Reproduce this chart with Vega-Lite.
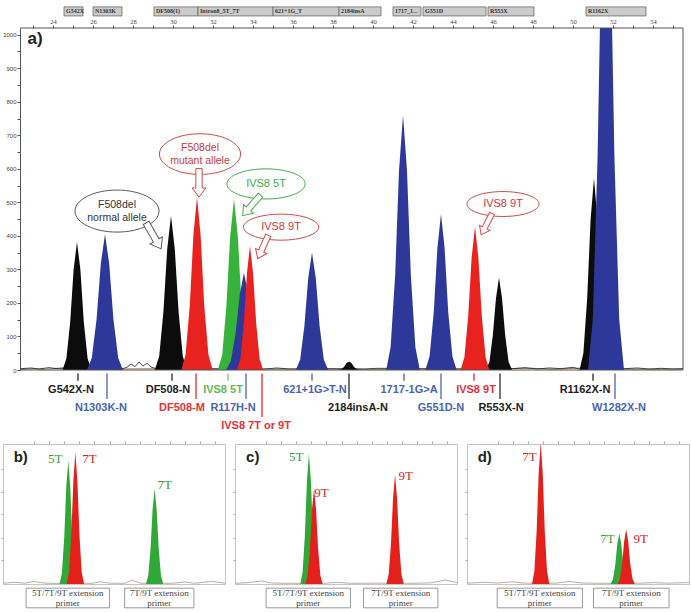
{
  "$schema": "https://vega.github.io/schema/vega-lite/v6.json",
  "background": "white",
  "padding": {"left": 0, "top": 6, "right": 0, "bottom": 0},
  "config": {"view": {"stroke": null}, "font": "Liberation Sans"},
  "bounds": "flush",
  "spacing": 0,
  "resolve": {"scale": {"fill": "independent", "stroke": "independent", "size": "independent", "shape": "independent", "angle": "independent"}},
  "datasets": {
    "peaksA": [
      {"peak":"G542X","dye":"black","x":24.48,"y":0},{"peak":"G542X","dye":"black","x":24.67,"y":34},{"peak":"G542X","dye":"black","x":24.86,"y":143},{"peak":"G542X","dye":"black","x":25.03,"y":299},{"peak":"G542X","dye":"black","x":25.2,"y":382},{"peak":"G542X","dye":"black","x":25.37,"y":299},{"peak":"G542X","dye":"black","x":25.54,"y":143},{"peak":"G542X","dye":"black","x":25.73,"y":34},{"peak":"G542X","dye":"black","x":25.92,"y":0},
      {"peak":"N1303K","dye":"blue","x":25.7,"y":0},{"peak":"N1303K","dye":"blue","x":25.94,"y":36},{"peak":"N1303K","dye":"blue","x":26.18,"y":152},{"peak":"N1303K","dye":"blue","x":26.39,"y":317},{"peak":"N1303K","dye":"blue","x":26.6,"y":405},{"peak":"N1303K","dye":"blue","x":26.81,"y":317},{"peak":"N1303K","dye":"blue","x":27.02,"y":152},{"peak":"N1303K","dye":"blue","x":27.26,"y":36},{"peak":"N1303K","dye":"blue","x":27.5,"y":0},
      {"peak":"DF508-N","dye":"black","x":29.09,"y":0},{"peak":"DF508-N","dye":"black","x":29.31,"y":41},{"peak":"DF508-N","dye":"black","x":29.52,"y":173},{"peak":"DF508-N","dye":"black","x":29.71,"y":360},{"peak":"DF508-N","dye":"black","x":29.9,"y":460},{"peak":"DF508-N","dye":"black","x":30.09,"y":360},{"peak":"DF508-N","dye":"black","x":30.28,"y":173},{"peak":"DF508-N","dye":"black","x":30.49,"y":41},{"peak":"DF508-N","dye":"black","x":30.71,"y":0},
      {"peak":"DF508-M","dye":"red","x":30.42,"y":0},{"peak":"DF508-M","dye":"red","x":30.63,"y":46},{"peak":"DF508-M","dye":"red","x":30.84,"y":193},{"peak":"DF508-M","dye":"red","x":31.02,"y":403},{"peak":"DF508-M","dye":"red","x":31.2,"y":515},{"peak":"DF508-M","dye":"red","x":31.38,"y":403},{"peak":"DF508-M","dye":"red","x":31.56,"y":193},{"peak":"DF508-M","dye":"red","x":31.77,"y":46},{"peak":"DF508-M","dye":"red","x":31.98,"y":0},
      {"peak":"IVS8-5T","dye":"green","x":32.24,"y":0},{"peak":"IVS8-5T","dye":"green","x":32.46,"y":45},{"peak":"IVS8-5T","dye":"green","x":32.67,"y":191},{"peak":"IVS8-5T","dye":"green","x":32.86,"y":399},{"peak":"IVS8-5T","dye":"green","x":33.05,"y":510},{"peak":"IVS8-5T","dye":"green","x":33.24,"y":399},{"peak":"IVS8-5T","dye":"green","x":33.43,"y":191},{"peak":"IVS8-5T","dye":"green","x":33.64,"y":45},{"peak":"IVS8-5T","dye":"green","x":33.86,"y":0},
      {"peak":"R117H","dye":"blue","x":32.65,"y":0},{"peak":"R117H","dye":"blue","x":32.89,"y":26},{"peak":"R117H","dye":"blue","x":33.13,"y":109},{"peak":"R117H","dye":"blue","x":33.34,"y":227},{"peak":"R117H","dye":"blue","x":33.55,"y":290},{"peak":"R117H","dye":"blue","x":33.76,"y":227},{"peak":"R117H","dye":"blue","x":33.97,"y":109},{"peak":"R117H","dye":"blue","x":34.21,"y":26},{"peak":"R117H","dye":"blue","x":34.45,"y":0},
      {"peak":"IVS8-9T-a","dye":"red","x":33.19,"y":0},{"peak":"IVS8-9T-a","dye":"red","x":33.37,"y":33},{"peak":"IVS8-9T-a","dye":"red","x":33.54,"y":139},{"peak":"IVS8-9T-a","dye":"red","x":33.7,"y":290},{"peak":"IVS8-9T-a","dye":"red","x":33.85,"y":370},{"peak":"IVS8-9T-a","dye":"red","x":34.0,"y":290},{"peak":"IVS8-9T-a","dye":"red","x":34.16,"y":139},{"peak":"IVS8-9T-a","dye":"red","x":34.33,"y":33},{"peak":"IVS8-9T-a","dye":"red","x":34.51,"y":0},
      {"peak":"621+1G>T","dye":"blue","x":36.14,"y":0},{"peak":"621+1G>T","dye":"blue","x":36.36,"y":31},{"peak":"621+1G>T","dye":"blue","x":36.57,"y":131},{"peak":"621+1G>T","dye":"blue","x":36.76,"y":274},{"peak":"621+1G>T","dye":"blue","x":36.95,"y":350},{"peak":"621+1G>T","dye":"blue","x":37.14,"y":274},{"peak":"621+1G>T","dye":"blue","x":37.33,"y":131},{"peak":"621+1G>T","dye":"blue","x":37.54,"y":31},{"peak":"621+1G>T","dye":"blue","x":37.76,"y":0},
      {"peak":"2184insA","dye":"black","x":38.26,"y":0},{"peak":"2184insA","dye":"black","x":38.4,"y":2},{"peak":"2184insA","dye":"black","x":38.55,"y":9},{"peak":"2184insA","dye":"black","x":38.67,"y":20},{"peak":"2184insA","dye":"black","x":38.8,"y":25},{"peak":"2184insA","dye":"black","x":38.93,"y":20},{"peak":"2184insA","dye":"black","x":39.05,"y":9},{"peak":"2184insA","dye":"black","x":39.2,"y":2},{"peak":"2184insA","dye":"black","x":39.34,"y":0},
      {"peak":"1717-1G>A","dye":"blue","x":40.66,"y":0},{"peak":"1717-1G>A","dye":"blue","x":40.88,"y":68},{"peak":"1717-1G>A","dye":"blue","x":41.11,"y":285},{"peak":"1717-1G>A","dye":"blue","x":41.3,"y":595},{"peak":"1717-1G>A","dye":"blue","x":41.5,"y":760},{"peak":"1717-1G>A","dye":"blue","x":41.7,"y":595},{"peak":"1717-1G>A","dye":"blue","x":41.89,"y":285},{"peak":"1717-1G>A","dye":"blue","x":42.12,"y":68},{"peak":"1717-1G>A","dye":"blue","x":42.34,"y":0},
      {"peak":"G551D","dye":"blue","x":42.62,"y":0},{"peak":"G551D","dye":"blue","x":42.83,"y":41},{"peak":"G551D","dye":"blue","x":43.04,"y":174},{"peak":"G551D","dye":"blue","x":43.22,"y":364},{"peak":"G551D","dye":"blue","x":43.4,"y":465},{"peak":"G551D","dye":"blue","x":43.58,"y":364},{"peak":"G551D","dye":"blue","x":43.76,"y":174},{"peak":"G551D","dye":"blue","x":43.97,"y":41},{"peak":"G551D","dye":"blue","x":44.18,"y":0},
      {"peak":"IVS8-9T-b","dye":"red","x":44.38,"y":0},{"peak":"IVS8-9T-b","dye":"red","x":44.57,"y":38},{"peak":"IVS8-9T-b","dye":"red","x":44.76,"y":160},{"peak":"IVS8-9T-b","dye":"red","x":44.93,"y":334},{"peak":"IVS8-9T-b","dye":"red","x":45.1,"y":427},{"peak":"IVS8-9T-b","dye":"red","x":45.27,"y":334},{"peak":"IVS8-9T-b","dye":"red","x":45.44,"y":160},{"peak":"IVS8-9T-b","dye":"red","x":45.63,"y":38},{"peak":"IVS8-9T-b","dye":"red","x":45.82,"y":0},
      {"peak":"R553X","dye":"black","x":45.64,"y":0},{"peak":"R553X","dye":"black","x":45.82,"y":24},{"peak":"R553X","dye":"black","x":45.99,"y":103},{"peak":"R553X","dye":"black","x":46.15,"y":215},{"peak":"R553X","dye":"black","x":46.3,"y":275},{"peak":"R553X","dye":"black","x":46.45,"y":215},{"peak":"R553X","dye":"black","x":46.61,"y":103},{"peak":"R553X","dye":"black","x":46.78,"y":24},{"peak":"R553X","dye":"black","x":46.96,"y":0},
      {"peak":"R1162X","dye":"black","x":50.33,"y":0},{"peak":"R1162X","dye":"black","x":50.52,"y":51},{"peak":"R1162X","dye":"black","x":50.71,"y":215},{"peak":"R1162X","dye":"black","x":50.88,"y":449},{"peak":"R1162X","dye":"black","x":51.05,"y":573},{"peak":"R1162X","dye":"black","x":51.22,"y":449},{"peak":"R1162X","dye":"black","x":51.39,"y":215},{"peak":"R1162X","dye":"black","x":51.58,"y":51},{"peak":"R1162X","dye":"black","x":51.77,"y":0},
      {"peak":"W1282X","dye":"blue","x":50.75,"y":0},{"peak":"W1282X","dye":"blue","x":50.99,"y":151},{"peak":"W1282X","dye":"blue","x":51.23,"y":638},{"peak":"W1282X","dye":"blue","x":51.44,"y":1331},{"peak":"W1282X","dye":"blue","x":51.65,"y":1700},{"peak":"W1282X","dye":"blue","x":51.86,"y":1331},{"peak":"W1282X","dye":"blue","x":52.07,"y":638},{"peak":"W1282X","dye":"blue","x":52.31,"y":151},{"peak":"W1282X","dye":"blue","x":52.55,"y":0}
    ],
    "traceA": [
      {"dye":"black","x":22.4,"y":4},{"dye":"black","x":22.9,"y":6},{"dye":"black","x":23.3,"y":3},{"dye":"black","x":23.8,"y":7},{"dye":"black","x":24.2,"y":4},{"dye":"black","x":27.4,"y":3},{"dye":"black","x":27.7,"y":8},{"dye":"black","x":27.9,"y":18},{"dye":"black","x":28.1,"y":10},{"dye":"black","x":28.3,"y":24},{"dye":"black","x":28.5,"y":12},{"dye":"black","x":28.7,"y":20},{"dye":"black","x":28.9,"y":9},{"dye":"black","x":29.1,"y":5},{"dye":"black","x":34.6,"y":3},{"dye":"black","x":35.2,"y":6},{"dye":"black","x":35.8,"y":3},{"dye":"black","x":38.0,"y":4},{"dye":"black","x":39.6,"y":3},{"dye":"black","x":40.2,"y":5},{"dye":"black","x":44.3,"y":3},{"dye":"black","x":47.0,"y":4},{"dye":"black","x":47.6,"y":7},{"dye":"black","x":48.2,"y":3},{"dye":"black","x":48.8,"y":6},{"dye":"black","x":49.4,"y":4},{"dye":"black","x":50.0,"y":8},{"dye":"black","x":50.3,"y":3},{"dye":"black","x":52.6,"y":4},{"dye":"black","x":53.2,"y":6},{"dye":"black","x":53.8,"y":3},{"dye":"black","x":54.4,"y":5},{"dye":"black","x":55.0,"y":3},{"dye":"black","x":55.5,"y":4},
      {"dye":"brown","x":22.4,"y":2},{"dye":"brown","x":23.0,"y":4},{"dye":"brown","x":23.6,"y":2},{"dye":"brown","x":24.2,"y":5},{"dye":"brown","x":24.8,"y":9},{"dye":"brown","x":25.3,"y":12},{"dye":"brown","x":25.8,"y":6},{"dye":"brown","x":26.4,"y":3},{"dye":"brown","x":30.5,"y":4},{"dye":"brown","x":32.0,"y":2},{"dye":"brown","x":36.0,"y":3},{"dye":"brown","x":40.0,"y":2},{"dye":"brown","x":44.0,"y":3},{"dye":"brown","x":48.0,"y":5},{"dye":"brown","x":49.0,"y":2},{"dye":"brown","x":50.5,"y":6},{"dye":"brown","x":51.0,"y":14},{"dye":"brown","x":51.5,"y":8},{"dye":"brown","x":52.2,"y":3},{"dye":"brown","x":54.0,"y":2},{"dye":"brown","x":55.5,"y":3}
    ],
    "frameA": [
      {"side":"right","x0":55.5,"x1":55.5,"y0":0,"y1":1020},
      {"side":"top","x0":22.35,"x1":55.5,"y0":1020,"y1":1020},
      {"side":"bottom","x0":22.35,"x1":55.5,"y0":0,"y1":0}
    ],
    "markers": [
      {"lab":"G542X","x0":24.55,"x1":25.5},
      {"lab":"N1303K","x0":26.0,"x1":27.45},
      {"lab":"DF508(1)","x0":29.05,"x1":31.25},
      {"lab":"Intron8_5T_7T","x0":31.25,"x1":35.0},
      {"lab":"621+1G_T","x0":35.0,"x1":38.3},
      {"lab":"2184insA","x0":38.3,"x1":40.4},
      {"lab":"1717_1...","x0":41.0,"x1":42.4},
      {"lab":"G551D","x0":42.5,"x1":45.65},
      {"lab":"R553X","x0":45.75,"x1":48.05},
      {"lab":"R1162X","x0":50.65,"x1":53.65}
    ],
    "callouts": [
      {"id":"normal","lines":2,"text":"F508del\nnormal allele","x":27.2,"y":474,"ax":29.03,"ay":400,"dir":330},
      {"id":"mutant","lines":2,"text":"F508del\nmutant allele","x":31.35,"y":644,"ax":31.3,"ay":558,"dir":0},
      {"id":"5T","lines":1,"text":"IVS8 5T","x":34.65,"y":555,"ax":33.93,"ay":491,"dir":41},
      {"id":"9Ta","lines":1,"text":"IVS8 9T","x":35.4,"y":426,"ax":34.5,"ay":367,"dir":24},
      {"id":"9Tb","lines":1,"text":"IVS8 9T","x":46.5,"y":495,"ax":45.68,"ay":435,"dir":27}
    ],
    "tagA": [{"tag":"a)","x":23.1,"y":987}],
    "labelsA": [
      {"name":"G542X-N","dye":"black","x":25.25,"at":24.9,"row":1},
      {"name":"N1303K-N","dye":"blue","x":26.7,"at":26.4,"row":2},
      {"name":"DF508-N","dye":"black","x":29.95,"at":29.75,"row":1},
      {"name":"DF508-M","dye":"red","x":31.15,"at":30.45,"row":2},
      {"name":"IVS8 5T","dye":"green","x":32.75,"at":32.5,"row":1},
      {"name":"R117H-N","dye":"blue","x":33.65,"at":33.0,"row":2},
      {"name":"IVS8 7T or 9T","dye":"red","x":34.45,"at":34.15,"row":3},
      {"name":"621+1G>T-N","dye":"blue","x":36.95,"at":37.1,"row":1},
      {"name":"2184insA-N","dye":"black","x":38.8,"at":39.25,"row":2},
      {"name":"1717-1G>A","dye":"blue","x":41.55,"at":41.8,"row":1},
      {"name":"G551D-N","dye":"blue","x":43.4,"at":43.4,"row":2},
      {"name":"IVS8 9T","dye":"red","x":45.05,"at":45.15,"row":1},
      {"name":"R553X-N","dye":"black","x":46.35,"at":46.4,"row":2},
      {"name":"R1162X-N","dye":"black","x":51.0,"at":50.6,"row":1},
      {"name":"W1282X-N","dye":"blue","x":52.1,"at":52.3,"row":2}
    ],
    "small": [
      {"panel":"b","kind":"peak","peak":"b5T","dye":"green","x":25.5,"y":0},{"panel":"b","kind":"peak","peak":"b5T","dye":"green","x":26.54,"y":7.8},{"panel":"b","kind":"peak","peak":"b5T","dye":"green","x":27.58,"y":33},{"panel":"b","kind":"peak","peak":"b5T","dye":"green","x":28.49,"y":68.9},{"panel":"b","kind":"peak","peak":"b5T","dye":"green","x":29.4,"y":88},{"panel":"b","kind":"peak","peak":"b5T","dye":"green","x":30.31,"y":68.9},{"panel":"b","kind":"peak","peak":"b5T","dye":"green","x":31.22,"y":33},{"panel":"b","kind":"peak","peak":"b5T","dye":"green","x":32.26,"y":7.8},{"panel":"b","kind":"peak","peak":"b5T","dye":"green","x":33.3,"y":0},
      {"panel":"b","kind":"peak","peak":"b7T","dye":"red","x":28.7,"y":0},{"panel":"b","kind":"peak","peak":"b7T","dye":"red","x":29.74,"y":8.4},{"panel":"b","kind":"peak","peak":"b7T","dye":"red","x":30.78,"y":35.3},{"panel":"b","kind":"peak","peak":"b7T","dye":"red","x":31.69,"y":73.6},{"panel":"b","kind":"peak","peak":"b7T","dye":"red","x":32.6,"y":94},{"panel":"b","kind":"peak","peak":"b7T","dye":"red","x":33.51,"y":73.6},{"panel":"b","kind":"peak","peak":"b7T","dye":"red","x":34.42,"y":35.3},{"panel":"b","kind":"peak","peak":"b7T","dye":"red","x":35.46,"y":8.4},{"panel":"b","kind":"peak","peak":"b7T","dye":"red","x":36.5,"y":0},
      {"panel":"b","kind":"peak","peak":"b7Tg","dye":"green","x":64.4,"y":0},{"panel":"b","kind":"peak","peak":"b7Tg","dye":"green","x":65.44,"y":6.1},{"panel":"b","kind":"peak","peak":"b7Tg","dye":"green","x":66.48,"y":25.5},{"panel":"b","kind":"peak","peak":"b7Tg","dye":"green","x":67.39,"y":53.2},{"panel":"b","kind":"peak","peak":"b7Tg","dye":"green","x":68.3,"y":68},{"panel":"b","kind":"peak","peak":"b7Tg","dye":"green","x":69.21,"y":53.2},{"panel":"b","kind":"peak","peak":"b7Tg","dye":"green","x":70.12,"y":25.5},{"panel":"b","kind":"peak","peak":"b7Tg","dye":"green","x":71.16,"y":6.1},{"panel":"b","kind":"peak","peak":"b7Tg","dye":"green","x":72.2,"y":0},
      {"panel":"c","kind":"peak","peak":"c5T","dye":"green","x":29.4,"y":0},{"panel":"c","kind":"peak","peak":"c5T","dye":"green","x":30.44,"y":8.3},{"panel":"c","kind":"peak","peak":"c5T","dye":"green","x":31.48,"y":34.9},{"panel":"c","kind":"peak","peak":"c5T","dye":"green","x":32.39,"y":72.8},{"panel":"c","kind":"peak","peak":"c5T","dye":"green","x":33.3,"y":93},{"panel":"c","kind":"peak","peak":"c5T","dye":"green","x":34.21,"y":72.8},{"panel":"c","kind":"peak","peak":"c5T","dye":"green","x":35.12,"y":34.9},{"panel":"c","kind":"peak","peak":"c5T","dye":"green","x":36.16,"y":8.3},{"panel":"c","kind":"peak","peak":"c5T","dye":"green","x":37.2,"y":0},
      {"panel":"c","kind":"peak","peak":"c9T","dye":"red","x":31.7,"y":0},{"panel":"c","kind":"peak","peak":"c9T","dye":"red","x":32.74,"y":6.1},{"panel":"c","kind":"peak","peak":"c9T","dye":"red","x":33.78,"y":25.5},{"panel":"c","kind":"peak","peak":"c9T","dye":"red","x":34.69,"y":53.2},{"panel":"c","kind":"peak","peak":"c9T","dye":"red","x":35.6,"y":68},{"panel":"c","kind":"peak","peak":"c9T","dye":"red","x":36.51,"y":53.2},{"panel":"c","kind":"peak","peak":"c9T","dye":"red","x":37.42,"y":25.5},{"panel":"c","kind":"peak","peak":"c9T","dye":"red","x":38.46,"y":6.1},{"panel":"c","kind":"peak","peak":"c9T","dye":"red","x":39.5,"y":0},
      {"panel":"c","kind":"peak","peak":"c9T2","dye":"red","x":68.2,"y":0},{"panel":"c","kind":"peak","peak":"c9T2","dye":"red","x":69.24,"y":6.9},{"panel":"c","kind":"peak","peak":"c9T2","dye":"red","x":70.28,"y":29.3},{"panel":"c","kind":"peak","peak":"c9T2","dye":"red","x":71.19,"y":61.1},{"panel":"c","kind":"peak","peak":"c9T2","dye":"red","x":72.1,"y":78},{"panel":"c","kind":"peak","peak":"c9T2","dye":"red","x":73.01,"y":61.1},{"panel":"c","kind":"peak","peak":"c9T2","dye":"red","x":73.92,"y":29.3},{"panel":"c","kind":"peak","peak":"c9T2","dye":"red","x":74.96,"y":6.9},{"panel":"c","kind":"peak","peak":"c9T2","dye":"red","x":76.0,"y":0},
      {"panel":"d","kind":"peak","peak":"d7T","dye":"red","x":29.3,"y":0},{"panel":"d","kind":"peak","peak":"d7T","dye":"red","x":30.34,"y":9},{"panel":"d","kind":"peak","peak":"d7T","dye":"red","x":31.38,"y":37.9},{"panel":"d","kind":"peak","peak":"d7T","dye":"red","x":32.29,"y":79.1},{"panel":"d","kind":"peak","peak":"d7T","dye":"red","x":33.2,"y":101},{"panel":"d","kind":"peak","peak":"d7T","dye":"red","x":34.11,"y":79.1},{"panel":"d","kind":"peak","peak":"d7T","dye":"red","x":35.02,"y":37.9},{"panel":"d","kind":"peak","peak":"d7T","dye":"red","x":36.06,"y":9},{"panel":"d","kind":"peak","peak":"d7T","dye":"red","x":37.1,"y":0},
      {"panel":"d","kind":"peak","peak":"d7Tg","dye":"green","x":64.7,"y":0},{"panel":"d","kind":"peak","peak":"d7Tg","dye":"green","x":65.74,"y":3.2},{"panel":"d","kind":"peak","peak":"d7Tg","dye":"green","x":66.78,"y":13.5},{"panel":"d","kind":"peak","peak":"d7Tg","dye":"green","x":67.69,"y":28.2},{"panel":"d","kind":"peak","peak":"d7Tg","dye":"green","x":68.6,"y":36},{"panel":"d","kind":"peak","peak":"d7Tg","dye":"green","x":69.51,"y":28.2},{"panel":"d","kind":"peak","peak":"d7Tg","dye":"green","x":70.42,"y":13.5},{"panel":"d","kind":"peak","peak":"d7Tg","dye":"green","x":71.46,"y":3.2},{"panel":"d","kind":"peak","peak":"d7Tg","dye":"green","x":72.5,"y":0},
      {"panel":"d","kind":"peak","peak":"d9T","dye":"red","x":67.8,"y":0},{"panel":"d","kind":"peak","peak":"d9T","dye":"red","x":68.84,"y":3.5},{"panel":"d","kind":"peak","peak":"d9T","dye":"red","x":69.88,"y":14.6},{"panel":"d","kind":"peak","peak":"d9T","dye":"red","x":70.79,"y":30.5},{"panel":"d","kind":"peak","peak":"d9T","dye":"red","x":71.7,"y":39},{"panel":"d","kind":"peak","peak":"d9T","dye":"red","x":72.61,"y":30.5},{"panel":"d","kind":"peak","peak":"d9T","dye":"red","x":73.52,"y":14.6},{"panel":"d","kind":"peak","peak":"d9T","dye":"red","x":74.56,"y":3.5},{"panel":"d","kind":"peak","peak":"d9T","dye":"red","x":75.6,"y":0},
      {"panel":"b","kind":"noise","x":0,"y":0.5},{"panel":"b","kind":"noise","x":5,"y":1.2},{"panel":"b","kind":"noise","x":10,"y":0.6},{"panel":"b","kind":"noise","x":14,"y":1.8},{"panel":"b","kind":"noise","x":18,"y":0.7},{"panel":"b","kind":"noise","x":24,"y":0.4},{"panel":"b","kind":"noise","x":40,"y":0.5},{"panel":"b","kind":"noise","x":44,"y":1.6},{"panel":"b","kind":"noise","x":48,"y":0.6},{"panel":"b","kind":"noise","x":55,"y":0.5},{"panel":"b","kind":"noise","x":58,"y":2.8},{"panel":"b","kind":"noise","x":62,"y":0.6},{"panel":"b","kind":"noise","x":76,"y":0.5},{"panel":"b","kind":"noise","x":82,"y":1.5},{"panel":"b","kind":"noise","x":86,"y":0.5},{"panel":"b","kind":"noise","x":94,"y":1.8},{"panel":"b","kind":"noise","x":100,"y":0.6},
      {"panel":"c","kind":"noise","x":0,"y":0.5},{"panel":"c","kind":"noise","x":6,"y":1},{"panel":"c","kind":"noise","x":12,"y":2.2},{"panel":"c","kind":"noise","x":16,"y":0.8},{"panel":"c","kind":"noise","x":22,"y":0.5},{"panel":"c","kind":"noise","x":40,"y":0.5},{"panel":"c","kind":"noise","x":46,"y":1.2},{"panel":"c","kind":"noise","x":52,"y":0.5},{"panel":"c","kind":"noise","x":64,"y":0.6},{"panel":"c","kind":"noise","x":80,"y":0.5},{"panel":"c","kind":"noise","x":88,"y":0.8},{"panel":"c","kind":"noise","x":95,"y":2.8},{"panel":"c","kind":"noise","x":100,"y":1},
      {"panel":"d","kind":"noise","x":0,"y":0.6},{"panel":"d","kind":"noise","x":8,"y":1.2},{"panel":"d","kind":"noise","x":14,"y":0.7},{"panel":"d","kind":"noise","x":20,"y":1.6},{"panel":"d","kind":"noise","x":26,"y":0.6},{"panel":"d","kind":"noise","x":40,"y":0.6},{"panel":"d","kind":"noise","x":46,"y":1.8},{"panel":"d","kind":"noise","x":52,"y":0.7},{"panel":"d","kind":"noise","x":60,"y":0.5},{"panel":"d","kind":"noise","x":78,"y":0.6},{"panel":"d","kind":"noise","x":84,"y":1},{"panel":"d","kind":"noise","x":90,"y":0.6},{"panel":"d","kind":"noise","x":100,"y":1},
      {"panel":"b","kind":"label","text":"5T","dye":"green","x":23.5,"y":89},{"panel":"b","kind":"label","text":"7T","dye":"red","x":38.9,"y":89},{"panel":"b","kind":"label","text":"7T","dye":"green","x":72.9,"y":71},
      {"panel":"c","kind":"label","text":"5T","dye":"green","x":27.6,"y":91},{"panel":"c","kind":"label","text":"9T","dye":"red","x":38.9,"y":65},{"panel":"c","kind":"label","text":"9T","dye":"red","x":76.9,"y":77},
      {"panel":"d","kind":"label","text":"7T","dye":"red","x":28.1,"y":91},{"panel":"d","kind":"label","text":"7T","dye":"green","x":63.3,"y":32},{"panel":"d","kind":"label","text":"9T","dye":"red","x":78.3,"y":32},
      {"panel":"b","kind":"tag","text":"b)","x":8,"y":91},{"panel":"c","kind":"tag","text":"c)","x":8,"y":91},{"panel":"d","kind":"tag","text":"d)","x":8,"y":91},
      {"panel":"b","kind":"primer","text":"5T/7T/9T extension\nprimer","x0":10.4,"x1":48.0,"xc":29.2},{"panel":"b","kind":"primer","text":"7T/9T extension\nprimer","x0":54.8,"x1":86.0,"xc":70.4},
      {"panel":"c","kind":"primer","text":"5T/7T/9T extension\nprimer","x0":14.0,"x1":52.0,"xc":33.0},{"panel":"c","kind":"primer","text":"7T/9T extension\nprimer","x0":57.9,"x1":91.4,"xc":74.65},
      {"panel":"d","kind":"primer","text":"5T/7T/9T extension\nprimer","x0":13.6,"x1":52.0,"xc":32.8},{"panel":"d","kind":"primer","text":"7T/9T extension\nprimer","x0":57.0,"x1":91.0,"xc":74.0}
    ]
  },
  "vconcat": [
    {
      "width": 680,
      "height": 342,
      "resolve": {"scale": {"size": "independent"}},
      "encoding": {
        "x": {"type": "quantitative", "scale": {"domain": [21.5, 55.5], "nice": false, "zero": false},
          "axis": {"orient": "top", "values": [23,24,25,26,27,28,29,30,31,32,33,34,35,36,37,38,39,40,41,42,43,44,45,46,47,48,49,50,51,52,53,54,55],
            "labelExpr": "datum.value % 2 === 0 ? datum.label : ''", "labelFontSize": 6.5, "labelFont": "Liberation Serif", "labelColor": "#444",
            "tickSize": 3, "tickColor": "#555", "domain": false, "grid": false, "title": null, "labelPadding": 1}},
        "y": {"type": "quantitative", "scale": {"domain": [0, 1020], "nice": false, "zero": false},
          "axis": {"orient": "left", "offset": -17, "values": [0,50,100,150,200,250,300,350,400,450,500,550,600,650,700,750,800,850,900,950,1000],
            "labelExpr": "datum.value % 100 === 0 ? datum.label : ''", "format": "d", "labelFontSize": 6, "labelColor": "#444",
            "tickSize": 3, "tickColor": "#555", "domainColor": "#555", "grid": false, "title": null, "labelPadding": 1}}
      },
      "layer": [
        {
          "data": {"name": "traceA"},
          "transform": [{"filter": "datum.dye === 'brown'"}],
          "mark": {"type": "line", "color": "#8a5a2a", "strokeWidth": 0.8},
          "encoding": {"x": {"field": "x"}, "y": {"field": "y"}}
        },
        {
          "data": {"name": "traceA"},
          "transform": [{"filter": "datum.dye === 'black'"}],
          "mark": {"type": "line", "color": "#1a1a1a", "strokeWidth": 0.8},
          "encoding": {"x": {"field": "x"}, "y": {"field": "y"}}
        },
        {
          "data": {"name": "peaksA"},
          "transform": [{"filter": "datum.dye === 'black'"}],
          "mark": {"type": "area", "clip": true, "color": "#0c0c0c"},
          "encoding": {"x": {"field": "x"}, "y": {"field": "y", "stack": null}, "detail": {"field": "peak"}}
        },
        {
          "data": {"name": "peaksA"},
          "transform": [{"filter": "datum.dye === 'green'"}],
          "mark": {"type": "area", "clip": true, "color": "#35b33b"},
          "encoding": {"x": {"field": "x"}, "y": {"field": "y", "stack": null}, "detail": {"field": "peak"}}
        },
        {
          "data": {"name": "peaksA"},
          "transform": [{"filter": "datum.dye === 'blue'"}],
          "mark": {"type": "area", "clip": true, "color": "#2e389b"},
          "encoding": {"x": {"field": "x"}, "y": {"field": "y", "stack": null}, "detail": {"field": "peak"}}
        },
        {
          "data": {"name": "peaksA"},
          "transform": [{"filter": "datum.dye === 'red'"}],
          "mark": {"type": "area", "clip": true, "color": "#e8221f"},
          "encoding": {"x": {"field": "x"}, "y": {"field": "y", "stack": null}, "detail": {"field": "peak"}}
        },
        {
          "data": {"name": "frameA"},
          "mark": {"type": "rule", "color": "#555", "strokeWidth": 1},
          "encoding": {"x": {"field": "x0"}, "x2": {"field": "x1"}, "y": {"field": "y0"}, "y2": {"field": "y1"}}
        },
        {
          "data": {"name": "markers"},
          "mark": {"type": "rect", "fill": "#cbcbcb", "stroke": "#6a6a6a", "strokeWidth": 0.8},
          "encoding": {"x": {"field": "x0"}, "x2": {"field": "x1"}, "y": {"datum": 1056}, "y2": {"datum": 1083}}
        },
        {
          "data": {"name": "markers"},
          "mark": {"type": "text", "align": "left", "baseline": "middle", "dx": 2, "font": "Liberation Serif", "fontWeight": "bold", "fontSize": 6, "color": "#333"},
          "encoding": {"x": {"field": "x0"}, "y": {"datum": 1069.5}, "text": {"field": "lab"}}
        },
        {
          "data": {"name": "tagA"},
          "mark": {"type": "text", "align": "center", "baseline": "middle", "fontWeight": "bold", "fontSize": 17, "color": "#222"},
          "encoding": {"x": {"field": "x"}, "y": {"field": "y"}, "text": {"field": "tag"}}
        },
        {
          "data": {"name": "callouts"},
          "mark": {"type": "point", "filled": false, "strokeWidth": 1, "opacity": 1},
          "encoding": {
            "x": {"field": "x"}, "y": {"field": "y"},
            "shape": {"field": "id", "type": "nominal", "legend": null, "scale": {"domain": ["normal","mutant","5T","9Ta","9Tb"], "range": [
              "M-1,0C-1,-0.276,-0.552,-0.5,0,-0.5C0.552,-0.5,1,-0.276,1,0C1,0.276,0.552,0.5,0,0.5C-0.552,0.5,-1,0.276,-1,0Z",
              "M-1,0C-1,-0.276,-0.552,-0.5,0,-0.5C0.552,-0.5,1,-0.276,1,0C1,0.276,0.552,0.5,0,0.5C-0.552,0.5,-1,0.276,-1,0Z",
              "M-1,0C-1,-0.2125,-0.552,-0.385,0,-0.385C0.552,-0.385,1,-0.2125,1,0C1,0.2125,0.552,0.385,0,0.385C-0.552,0.385,-1,0.2125,-1,0Z",
              "M-1,0C-1,-0.191,-0.552,-0.346,0,-0.346C0.552,-0.346,1,-0.191,1,0C1,0.191,0.552,0.346,0,0.346C-0.552,0.346,-1,0.191,-1,0Z",
              "M-1,0C-1,-0.191,-0.552,-0.346,0,-0.346C0.552,-0.346,1,-0.191,1,0C1,0.191,0.552,0.346,0,0.346C-0.552,0.346,-1,0.191,-1,0Z"]}},
            "size": {"field": "id", "type": "ordinal", "legend": null, "scale": {"domain": ["normal","mutant","5T","9Ta","9Tb"], "range": [7056, 5184, 2704, 2704, 2704]}},
            "stroke": {"field": "id", "type": "nominal", "legend": null, "scale": {"domain": ["normal","mutant","5T","9Ta","9Tb"], "range": ["#5a5a5a", "#d04a4a", "#4aaa4a", "#d04a4a", "#d04a4a"]}}
          }
        },
        {
          "data": {"name": "callouts"},
          "mark": {"type": "point", "shape": "M-0.22,-1L0.22,-1L0.22,0.35L0.48,0.35L0,1L-0.48,0.35L-0.22,0.35Z", "filled": true, "fill": "white", "strokeWidth": 1, "opacity": 1},
          "encoding": {
            "x": {"field": "ax"}, "y": {"field": "ay"},
            "angle": {"field": "dir", "type": "quantitative", "scale": {"domain": [0, 360], "range": [0, 360]}, "legend": null},
            "size": {"field": "id", "type": "ordinal", "legend": null, "scale": {"domain": ["normal","mutant","5T","9Ta","9Tb"], "range": [900, 576, 576, 441, 441]}},
            "stroke": {"field": "id", "type": "nominal", "legend": null, "scale": {"domain": ["normal","mutant","5T","9Ta","9Tb"], "range": ["#5a5a5a", "#d04a4a", "#4aaa4a", "#d04a4a", "#d04a4a"]}}
          }
        },
        {
          "data": {"name": "callouts"},
          "transform": [{"filter": "datum.lines === 2"}],
          "mark": {"type": "text", "align": "center", "baseline": "middle", "fontSize": 10.5, "lineHeight": 13, "lineBreak": "\n", "dy": -6.5},
          "encoding": {
            "x": {"field": "x"}, "y": {"field": "y"}, "text": {"field": "text"},
            "fill": {"field": "id", "type": "nominal", "legend": null, "scale": {"domain": ["normal","mutant","5T","9Ta","9Tb"], "range": ["#333333", "#c83c3c", "#3ea83e", "#d03a3a", "#d03a3a"]}}
          }
        },
        {
          "data": {"name": "callouts"},
          "transform": [{"filter": "datum.lines === 1"}],
          "mark": {"type": "text", "align": "center", "baseline": "middle", "fontSize": 11},
          "encoding": {
            "x": {"field": "x"}, "y": {"field": "y"}, "text": {"field": "text"},
            "fill": {"field": "id", "type": "nominal", "legend": null, "scale": {"domain": ["normal","mutant","5T","9Ta","9Tb"], "range": ["#333333", "#c83c3c", "#3ea83e", "#d03a3a", "#d03a3a"]}}
          }
        }
      ]
    },
    {
      "width": 680,
      "height": 74,
      "data": {"name": "labelsA"},
      "encoding": {
        "y": {"type": "quantitative", "scale": {"domain": [0.4, 4.5], "reverse": true, "nice": false, "zero": false}, "axis": null}
      },
      "layer": [
        {
          "mark": {"type": "rule", "strokeWidth": 1.4},
          "encoding": {
            "x": {"field": "x", "type": "quantitative", "scale": {"domain": [21.5, 55.5], "nice": false, "zero": false}, "axis": null},
            "y": {"field": "row"},
            "y2": {"datum": 0.6},
            "stroke": {"field": "dye", "type": "nominal", "legend": null, "scale": {"domain": ["black","blue","red","green"], "range": ["#3a3a3a", "#5b70b8", "#e23b3b", "#86c97a"]}}
          }
        },
        {
          "mark": {"type": "text", "fontWeight": "bold", "fontSize": 11, "baseline": "top", "align": "center", "dy": 3},
          "encoding": {
            "x": {"field": "at", "type": "quantitative", "scale": {"domain": [21.5, 55.5], "nice": false, "zero": false}, "axis": null},
            "y": {"field": "row"},
            "text": {"field": "name"},
            "fill": {"field": "dye", "type": "nominal", "legend": null, "scale": {"domain": ["black","blue","red","green"], "range": ["#1e1e1e", "#4a64b2", "#e1343a", "#63b95a"]}}
          }
        }
      ]
    },
    {
      "data": {"name": "small"},
      "facet": {"column": {"field": "panel", "type": "nominal", "header": {"title": null, "labels": false}}},
      "spacing": 10,
      "bounds": "flush",
      "resolve": {"axis": {"y": "independent"}},
      "spec": {
        "width": 222,
        "height": 140,
        "view": {"stroke": "#c4c4c4"},
        "encoding": {
          "x": {"type": "quantitative", "scale": {"domain": [0, 100], "nice": false, "zero": false},
            "axis": {"orient": "top", "values": [14,20.8,27.6,34.4,41.2,48,54.8,61.6,68.4,75.2,82,88.8,95.6], "labels": false, "tickSize": 3, "tickColor": "#aaa", "domain": false, "grid": false, "title": null}},
          "y": {"type": "quantitative", "scale": {"domain": [0, 100], "nice": false, "zero": false},
            "axis": {"values": [17,33,50,66,82], "labels": false, "tickSize": 2, "tickColor": "#aaa", "domain": false, "grid": false, "title": null}}
        },
        "layer": [
          {
            "transform": [{"filter": "datum.kind === 'noise'"}],
            "mark": {"type": "line", "color": "#b9b1a0", "strokeWidth": 1},
            "encoding": {"x": {"field": "x"}, "y": {"field": "y"}}
          },
          {
            "transform": [{"filter": "datum.kind === 'peak' && datum.dye === 'green'"}],
            "mark": {"type": "area", "clip": true, "color": "#2fa836"},
            "encoding": {"x": {"field": "x"}, "y": {"field": "y", "stack": null}, "detail": {"field": "peak"}}
          },
          {
            "transform": [{"filter": "datum.kind === 'peak' && datum.dye === 'red'"}],
            "mark": {"type": "area", "clip": true, "color": "#e4201c"},
            "encoding": {"x": {"field": "x"}, "y": {"field": "y", "stack": null}, "detail": {"field": "peak"}}
          },
          {
            "transform": [{"filter": "datum.kind === 'label'"}],
            "mark": {"type": "text", "align": "center", "baseline": "middle", "font": "Liberation Serif", "fontSize": 13},
            "encoding": {
              "x": {"field": "x"}, "y": {"field": "y"}, "text": {"field": "text"},
              "fill": {"field": "dye", "type": "nominal", "legend": null, "scale": {"domain": ["green", "red"], "range": ["#3a9d3a", "#d8262a"]}}
            }
          },
          {
            "transform": [{"filter": "datum.kind === 'tag'"}],
            "mark": {"type": "text", "align": "center", "baseline": "middle", "fontWeight": "bold", "fontSize": 15, "color": "#222"},
            "encoding": {"x": {"field": "x"}, "y": {"field": "y"}, "text": {"field": "text"}}
          },
          {
            "transform": [{"filter": "datum.kind === 'primer'"}],
            "mark": {"type": "rect", "fill": "white", "stroke": "#9a9a9a", "strokeWidth": 1},
            "encoding": {"x": {"field": "x0"}, "x2": {"field": "x1"}, "y": {"datum": -3}, "y2": {"datum": -17}}
          },
          {
            "transform": [{"filter": "datum.kind === 'primer'"}],
            "mark": {"type": "text", "align": "center", "baseline": "middle", "font": "Liberation Serif", "fontSize": 9, "lineHeight": 10, "lineBreak": "\n", "color": "#444"},
            "encoding": {"x": {"field": "xc"}, "y": {"datum": -6.4}, "text": {"field": "text"}}
          }
        ]
      }
    }
  ]
}
